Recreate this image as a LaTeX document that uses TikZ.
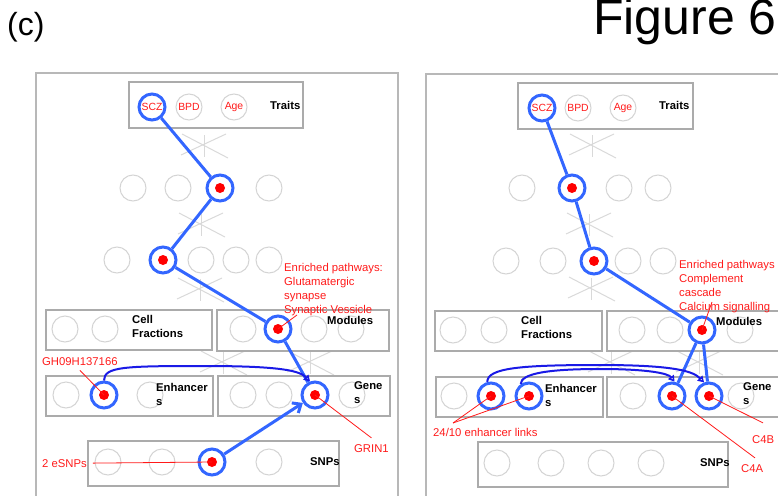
\documentclass[tikz,border=0pt]{standalone}
\usepackage{fontspec}
\setmainfont{Liberation Sans}
\usetikzlibrary{arrows.meta}

\definecolor{ringgray}{HTML}{D4D4D4}
\definecolor{boxgray}{HTML}{ABABAB}
\definecolor{framegray}{HTML}{B8B8B8}
\definecolor{stargray}{HTML}{D9D9D9}
\definecolor{pathblue}{HTML}{3366FF}
\definecolor{linkblue}{HTML}{1A1AE6}
\definecolor{notered}{HTML}{FF1A1A}

\tikzset{
  frame/.style={draw=framegray, line width=1.5pt},
  layerbox/.style={rectangle, draw=boxgray, line width=1.5pt, fill=white, inner sep=0pt},
  unit/.style={circle, draw=ringgray, line width=1pt, minimum size=26pt, inner sep=0pt},
  hit/.style={circle, draw=pathblue, line width=3pt, fill=white, minimum size=26pt, inner sep=0pt},
  unitlabel/.style={text=notered, font=\fontsize{10.4}{11}\selectfont},
  layername/.style={font=\bfseries\fontsize{11.3}{14}\selectfont, inner sep=0pt, align=left},
  note/.style={text=notered, font=\fontsize{11.3}{14}\selectfont, inner sep=0pt, align=left},
  noteline/.style={draw=notered, line width=0.8pt},
  route/.style={draw=pathblue, line width=3pt},
  routearrow/.style={route, -{Straight Barb[length=7pt,width=12pt]}},
  link/.style={draw=linkblue, line width=2pt, -{Triangle[open,length=6pt,width=7pt]}},
  starline/.style={draw=stargray, line width=1pt},
  starmark/.pic={
    \draw[starline] (-23,-9) -- (22,12);
    \draw[starline] (-22,12) -- (24,-12);
    \draw[starline] (0,11) -- (0,-11);
  },
  dot/.style={fill=red},
}

\begin{document}
\begin{tikzpicture}[x=1pt,y=1pt]
\useasboundingbox (0,0) rectangle (778,-495);
\clip (0,0) rectangle (778,-495);

% headings
\node[font=\fontsize{32}{32}\selectfont, anchor=base west, inner sep=0pt] (panelTag) at (7,-36) {(c)};
\node[font=\fontsize{50}{50}\selectfont, anchor=base west, inner sep=0pt] (figTag) at (593,-35) {Figure 6};

% panel frames
\draw[frame] (36,-73) rectangle (398,-520);
\draw[frame] (426,-74) rectangle (800,-520);

% faint connection marks between layers
\pic at (204,-146) {starmark};
\pic at (201,-225) {starmark};
\pic at (200,-290) {starmark};
\pic at (223,-363) {starmark};
\pic at (310,-363) {starmark};
\pic at (592,-146) {starmark};
\pic at (589,-225) {starmark};
\pic at (591,-289) {starmark};
\pic at (611,-363) {starmark};
\pic at (699,-363) {starmark};

% ================= left panel =================
\node[layerbox, minimum width=174pt, minimum height=46pt] (LTraits) at (216,-105) {};
\node[hit, unitlabel] (LT1) at (152,-107) {SCZ};
\node[unit, unitlabel] (LT2) at (189,-107) {BPD};
\node[unit, unitlabel] (LT3) at (234,-107) {Age};

\node[unit] (La1) at (133,-188) {};
\node[unit] (La2) at (178,-188) {};
\node[hit]  (La3) at (220,-188) {};
\node[unit] (La4) at (269,-188) {};

\node[unit] (Lb1) at (117,-260) {};
\node[hit]  (Lb2) at (163,-260) {};
\node[unit] (Lb3) at (201,-260) {};
\node[unit] (Lb4) at (236,-260) {};
\node[unit] (Lb5) at (269,-260) {};

\node[layerbox, minimum width=166pt, minimum height=40pt] (LCell) at (129,-330) {};
\node[unit] (Lc1) at (65,-329) {};
\node[unit] (Lc2) at (105,-329) {};

\node[layerbox, minimum width=172pt, minimum height=41pt] (LMod) at (303,-330.5) {};
\node[unit] (Lm1) at (243,-329) {};
\node[hit]  (Lm2) at (278,-329) {};
\node[unit] (Lm3) at (314,-329) {};
\node[unit] (Lm4) at (351,-329) {};

\node[layerbox, minimum width=167pt, minimum height=40pt] (LEnh) at (129.5,-396) {};
\node[unit] (Le1) at (66,-395) {};
\node[hit]  (Le2) at (104,-395) {};
\node[unit] (Le3) at (150,-395) {};

\node[layerbox, minimum width=172pt, minimum height=40pt] (LGene) at (304,-396) {};
\node[unit] (Lg1) at (243,-395) {};
\node[unit] (Lg2) at (279,-395) {};
\node[hit]  (Lg3) at (315,-395) {};
\node[unit] (Lg4) at (352,-395) {};

\node[layerbox, minimum width=251pt, minimum height=45pt] (LSnp) at (213.5,-463.5) {};
\node[unit] (Ls1) at (108,-462) {};
\node[unit] (Ls2) at (162,-462) {};
\node[hit]  (Ls3) at (212,-462) {};
\node[unit] (Ls4) at (269,-462) {};

% path through the layers
\draw[route] (LT1) -- (La3) -- (Lb2) -- (Lm2) -- (Lg3);
\draw[routearrow] (Ls3) -- (Lg3);
\coordinate (LlinkTop) at (205,-366);
\draw[link] (Le2.north) .. controls +(0,14) and +(-80,0) .. (LlinkTop)
  .. controls +(80,0) and +(-10,10) .. (Lg3.110);

\foreach \n in {La3,Lb2,Lm2,Le2,Lg3,Ls3} \fill[dot] (\n.center) circle[radius=5pt];

% layer names
\node[layername, anchor=base west] (LTraitsName) at (270,-109) {Traits};
\node[layername, anchor=north west] (LCellName) at (132,-315) {Cell\\Fractions};
\node[layername, anchor=base west] (LModName) at (327,-324) {Modules};
\node[layername, anchor=north west] (LEnhName) at (156,-383) {Enhancer\\s};
\node[layername, anchor=north west] (LGeneName) at (354,-381) {Gene\\s};
\node[layername, anchor=base west] (LSnpName) at (310,-465) {SNPs};

% notes
\node[note, anchor=north west] (LnoteMod) at (284,-263) {Enriched pathways:\\Glutamatergic\\synapse\\Synaptic Vessicle};
\node[note, anchor=base west] (LnoteGH) at (42,-365) {GH09H137166};
\node[note, anchor=base west] (LnoteGrin) at (354,-452) {GRIN1};
\node[note, anchor=base west] (LnoteSnp) at (42,-467) {2 eSNPs};
\coordinate (LmodTail) at (297,-315);
\draw[noteline] (Lm2.center) -- (LmodTail);
\draw[noteline] ([yshift=-5pt]LnoteGH.south) -- (Le2.center);
\draw[noteline] ([yshift=6pt]LnoteGrin.north) -- (Lg3.center);
\draw[noteline] ([xshift=6pt]LnoteSnp.east) -- (Ls3.center);

% ================= right panel =================
\node[layerbox, minimum width=175pt, minimum height=46pt] (RTraits) at (605.5,-106) {};
\node[hit, unitlabel] (RT1) at (542,-108) {SCZ};
\node[unit, unitlabel] (RT2) at (578,-108) {BPD};
\node[unit, unitlabel] (RT3) at (623,-108) {Age};

\node[unit] (Ra1) at (522,-188) {};
\node[hit]  (Ra2) at (572,-188) {};
\node[unit] (Ra3) at (619,-188) {};
\node[unit] (Ra4) at (658,-188) {};

\node[unit] (Rb1) at (506,-261) {};
\node[unit] (Rb2) at (553,-261) {};
\node[hit]  (Rb3) at (594,-261) {};
\node[unit] (Rb4) at (628,-261) {};
\node[unit] (Rb5) at (663,-261) {};

\node[layerbox, minimum width=167pt, minimum height=40pt] (RCell) at (518.5,-331) {};
\node[unit] (Rc1) at (453,-330) {};
\node[unit] (Rc2) at (494,-330) {};

\node[layerbox, minimum width=193pt, minimum height=40pt] (RMod) at (703.5,-331) {};
\node[unit] (Rm1) at (632,-330) {};
\node[unit] (Rm2) at (670,-330) {};
\node[hit]  (Rm3) at (702,-330) {};
\node[unit] (Rm4) at (740,-330) {};

\node[layerbox, minimum width=167pt, minimum height=40pt] (REnh) at (519.5,-397) {};
\node[unit] (Re1) at (454,-396) {};
\node[hit]  (Re2) at (491,-396) {};
\node[hit]  (Re3) at (529,-396) {};

\node[layerbox, minimum width=193pt, minimum height=40pt] (RGene) at (703.5,-397) {};
\node[unit] (Rg1) at (633,-396) {};
\node[hit]  (Rg2) at (672,-396) {};
\node[hit]  (Rg3) at (709,-396) {};
\node[unit] (Rg4) at (741,-396) {};

\node[layerbox, minimum width=250pt, minimum height=45pt] (RSnp) at (603,-464.5) {};
\node[unit] (Rs1) at (497,-463) {};
\node[unit] (Rs2) at (551,-463) {};
\node[unit] (Rs3) at (601,-463) {};
\node[unit] (Rs4) at (651,-463) {};

% path through the layers
\draw[route] (RT1) -- (Ra2) -- (Rb3) -- (Rm3);
\draw[route] (Rm3) -- (Rg2);
\draw[route] (Rm3) -- (Rg3);
\coordinate (RlinkA) at (600,-365);
\draw[link] (Re2.105) .. controls +(0,14) and +(-80,0) .. (RlinkA)
  .. controls +(80,0) and +(-10,10) .. (Rg3.110);
\coordinate (RlinkB) at (600,-369);
\draw[link] (Re3.125) .. controls +(0,11) and +(-50,0) .. (RlinkB)
  .. controls +(50,0) and +(-6,8) .. (Rg2.80);

\foreach \n in {Ra2,Rb3,Rm3,Re2,Re3,Rg2,Rg3} \fill[dot] (\n.center) circle[radius=5pt];

% layer names
\node[layername, anchor=base west] (RTraitsName) at (659,-109) {Traits};
\node[layername, anchor=north west] (RCellName) at (521,-316) {Cell\\Fractions};
\node[layername, anchor=base west] (RModName) at (716,-325) {Modules};
\node[layername, anchor=north west] (REnhName) at (545,-384) {Enhancer\\s};
\node[layername, anchor=north west] (RGeneName) at (743,-382) {Gene\\s};
\node[layername, anchor=base west] (RSnpName) at (700,-466) {SNPs};

% notes
\node[note, anchor=north west] (RnoteMod) at (679,-260) {Enriched pathways\\Complement\\cascade\\Calcium signalling};
\node[note, anchor=base west] (RnoteEnh) at (433,-436) {24/10 enhancer links};
\node[note, anchor=base west] (RnoteC4B) at (752,-443) {C4B};
\node[note, anchor=base west] (RnoteC4A) at (741,-472) {C4A};
\coordinate (RmodTail) at (712,-302);
\coordinate (RenhTail) at (453,-423);
\draw[noteline] (Rm3.center) -- (RmodTail);
\draw[noteline] (RenhTail) -- (Re2.center);
\draw[noteline] (RenhTail) -- (Re3.center);
\draw[noteline] ([xshift=11pt,yshift=12pt]RnoteC4B.north west) -- (Rg3.center);
\draw[noteline] ([xshift=14pt,yshift=6pt]RnoteC4A.north west) -- (Rg2.center);
\end{tikzpicture}
\end{document}
